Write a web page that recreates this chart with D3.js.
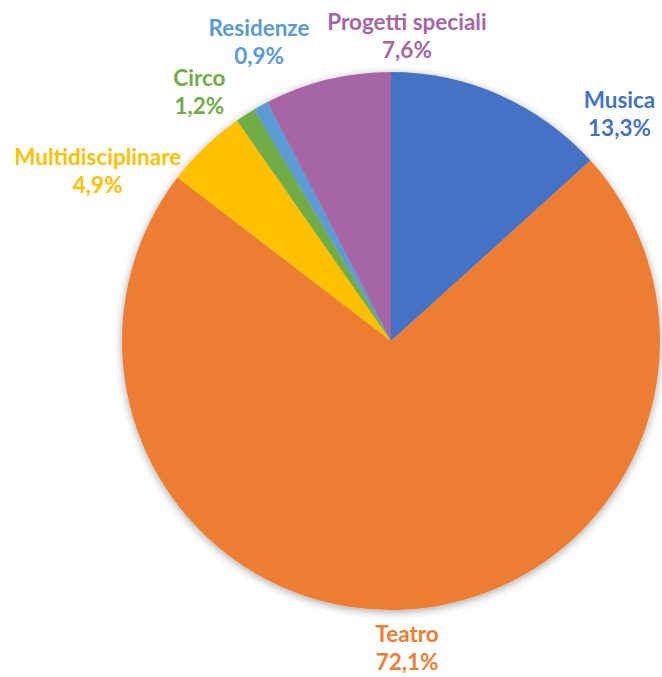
<!DOCTYPE html>
<meta charset="utf-8">
<head>
	<style>
		html, body { margin: 0; padding: 0; background: white; }
		.lbl {
			font-family: Lato, "Open Sans", sans-serif;
			font-weight: bold;
			font-size: 22.5px;
			text-anchor: middle;
		}
	</style>
	<script src="https://d3js.org/d3.v7.min.js"></script>
</head>
<body>
	<script>

	// DATA
	var categories = ['Musica', 'Teatro', 'Multidisciplinare', 'Circo', 'Residenze', 'Progetti speciali'];
	var shares = [13.3, 72.1, 4.9, 1.2, 0.9, 7.6];
	var colors = ['#4472C4', '#ED7D31', '#FFC000', '#70AD47', '#5B9BD5', '#A666A6'];

	// label placement (angle in degrees from 12 o'clock, distance from centre)
	var labelPos = [[45.2, 322], [177, 307], [300.1, 339], [322.4, 314], [336.2, 327], [3, 305]];

	// SETUP
	var width = 662, height = 677,
		cx = 391, cy = 341, radius = 269;

	var svg = d3.select('body')
		.append('svg')
		.attr('width', width)
		.attr('height', height);

	var defs = svg.append('defs');
	var f = defs.append('filter')
		.attr('id', 'shadow')
		.attr('x', '-10%').attr('y', '-10%')
		.attr('width', '120%').attr('height', '120%');
	f.append('feDropShadow')
		.attr('dx', 0).attr('dy', 2)
		.attr('stdDeviation', 4)
		.attr('flood-color', '#000')
		.attr('flood-opacity', 0.35);

	var data = categories.map(function(c, i) {
		return { name: c, value: shares[i], color: colors[i], pos: labelPos[i] };
	});

	var pie = d3.pie()
		.sort(null)
		.value(function(d) { return d.value; });

	var arc = d3.arc()
		.innerRadius(0)
		.outerRadius(radius);

	var g = svg.append('g')
		.attr('transform', 'translate(' + cx + ',' + cy + ')');

	g.append('g')
		.attr('filter', 'url(#shadow)')
		.selectAll('path')
		.data(pie(data))
		.enter().append('path')
		.attr('d', arc)
		.attr('fill', function(d) { return d.data.color; });

	// LABELS
	var fmt = function(v) { return v.toFixed(1).replace('.', ',') + '%'; };

	var labels = g.selectAll('.lbl')
		.data(data)
		.enter().append('text')
		.attr('class', 'lbl')
		.attr('fill', function(d) { return d.color; })
		.attr('transform', function(d) {
			var a = d.pos[0] * Math.PI / 180;
			return 'translate(' + (d.pos[1] * Math.sin(a)) + ',' + (-d.pos[1] * Math.cos(a)) + ')';
		});

	labels.append('tspan')
		.attr('x', 0)
		.attr('y', -6)
		.text(function(d) { return d.name; });

	labels.append('tspan')
		.attr('x', 0)
		.attr('y', 22)
		.text(function(d) { return fmt(d.value); });

	</script>
</body>
